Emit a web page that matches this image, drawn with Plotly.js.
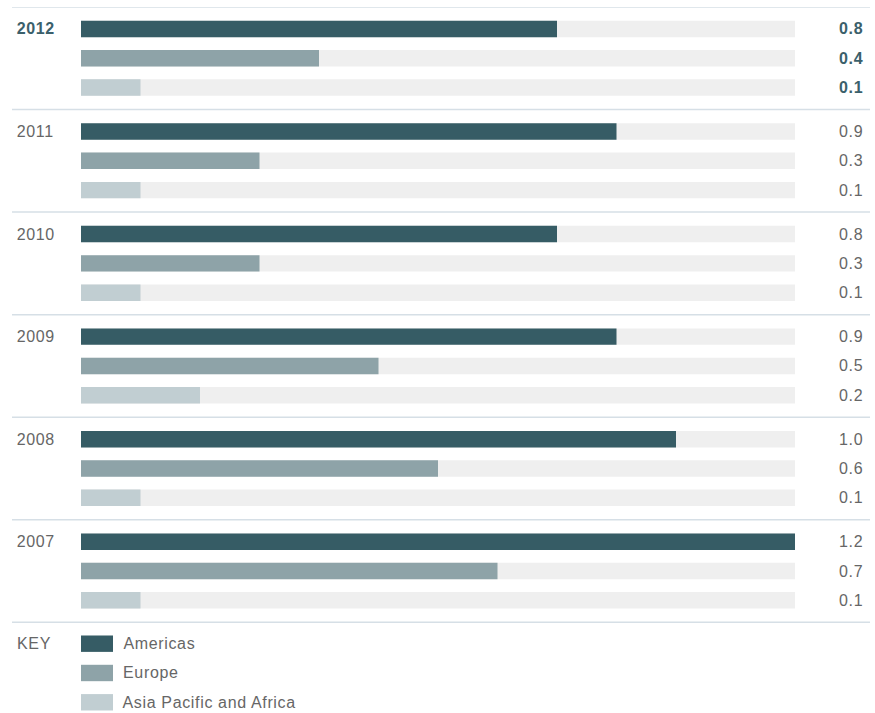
<!DOCTYPE html>
<html>
<head>
<meta charset="utf-8">
<script src="https://cdn.plot.ly/plotly-3.0.1.min.js"></script>
<style>
html,body{margin:0;padding:0;background:#fff;}
#chart{width:875px;height:713px;}
#chart .annotation-text{letter-spacing:0.65px;}
</style>
</head>
<body>
<div id="chart"></div>
<script>
// ---- data ----
const years = ['2012', '2011', '2010', '2009', '2008', '2007'];
const americas = [0.8, 0.9, 0.8, 0.9, 1.0, 1.2];
const europe = [0.4, 0.3, 0.3, 0.5, 0.6, 0.7];
const asiaPacificAfrica = [0.1, 0.1, 0.1, 0.2, 0.1, 0.1];
const seriesNames = ['Americas', 'Europe', 'Asia Pacific and Africa'];
const axisMax = 1.2;
const keyLabel = 'KEY';

// ---- styling ----
const seriesColors = ['#365c65', '#8ea3a8', '#c1ced2'];
const trackColor = '#efefef';
const sepColor = '#d6dfe6';
const textColor = '#666666';
const hiColor = '#3b606b';
const FONT = 'Liberation Sans, Arial, Helvetica, sans-serif';
const FS = 16;
const LS = 0.65; // matches CSS letter-spacing

const W = 875, H = 713;
const L = 81, R = 80, T = 7, B = 0;
const plotW = W - L - R;
const UNIT = 29.3;
const yBottom = (H - T - B) / UNIT;
const GROUP = 3.5, PAD = 0.75, BARW = 0.56;

const px2paper = p => (p - L) / plotW;
const rowY = (g, r) => g * GROUP + PAD + r;
const lsShift = s => s.replace(/<[^>]*>/g, '').length * LS / 2;

const seriesVals = [americas, europe, asiaPacificAfrica];

const traces = [];
// background tracks
const trackY = [], trackX = [];
years.forEach((y, g) => { for (let r = 0; r < 3; r++) { trackY.push(rowY(g, r)); trackX.push(axisMax); } });
traces.push({type: 'bar', orientation: 'h', x: trackX, y: trackY, width: BARW,
  marker: {color: trackColor, line: {width: 0}}, showlegend: false, hoverinfo: 'skip'});
seriesVals.forEach((vals, r) => {
  traces.push({type: 'bar', orientation: 'h', name: seriesNames[r],
    x: vals, y: years.map((_, g) => rowY(g, r)), width: BARW,
    marker: {color: seriesColors[r], line: {width: 0}}, showlegend: false, hoverinfo: 'skip'});
});

const shapes = [];
for (let g = 0; g <= years.length; g++) {
  shapes.push({type: 'line', xref: 'paper', yref: 'y', x0: px2paper(12), x1: px2paper(870),
    y0: g * GROUP, y1: g * GROUP, line: {color: sepColor, width: 1.5}});
}
const annotations = [];
function addText(px, y, text, color) {
  annotations.push({xref: 'paper', yref: 'y', x: px2paper(px), y: y, text: text,
    xanchor: 'left', yanchor: 'middle', showarrow: false, xshift: lsShift(text),
    font: {family: FONT, size: FS, color: color}});
}
years.forEach((yr, g) => {
  const hi = g === 0;
  addText(15, rowY(g, 0), hi ? '<b>' + yr + '</b>' : yr, hi ? hiColor : textColor);
  seriesVals.forEach((vals, r) => {
    const t = vals[g].toFixed(1);
    addText(837, rowY(g, r), hi ? '<b>' + t + '</b>' : t, hi ? hiColor : textColor);
  });
});
// key / legend
const legBase = years.length * GROUP + 0.73;
addText(15, legBase, keyLabel, textColor);
seriesNames.forEach((nm, i) => {
  const yy = legBase + i;
  shapes.push({type: 'rect', xref: 'paper', yref: 'y', x0: px2paper(81), x1: px2paper(113),
    y0: yy - BARW / 2, y1: yy + BARW / 2, fillcolor: seriesColors[i], line: {width: 0}});
  addText(121, yy, nm, textColor);
});

const layout = {
  width: W, height: H,
  margin: {l: L, r: R, t: T, b: B, pad: 0},
  paper_bgcolor: '#ffffff', plot_bgcolor: '#ffffff',
  barmode: 'overlay',
  showlegend: false,
  hovermode: false,
  xaxis: {range: [0, axisMax], visible: false, fixedrange: true},
  yaxis: {range: [yBottom, 0], visible: false, fixedrange: true},
  shapes: shapes,
  annotations: annotations
};
Plotly.newPlot('chart', traces, layout, {staticPlot: true, displayModeBar: false});
</script>
</body>
</html>
